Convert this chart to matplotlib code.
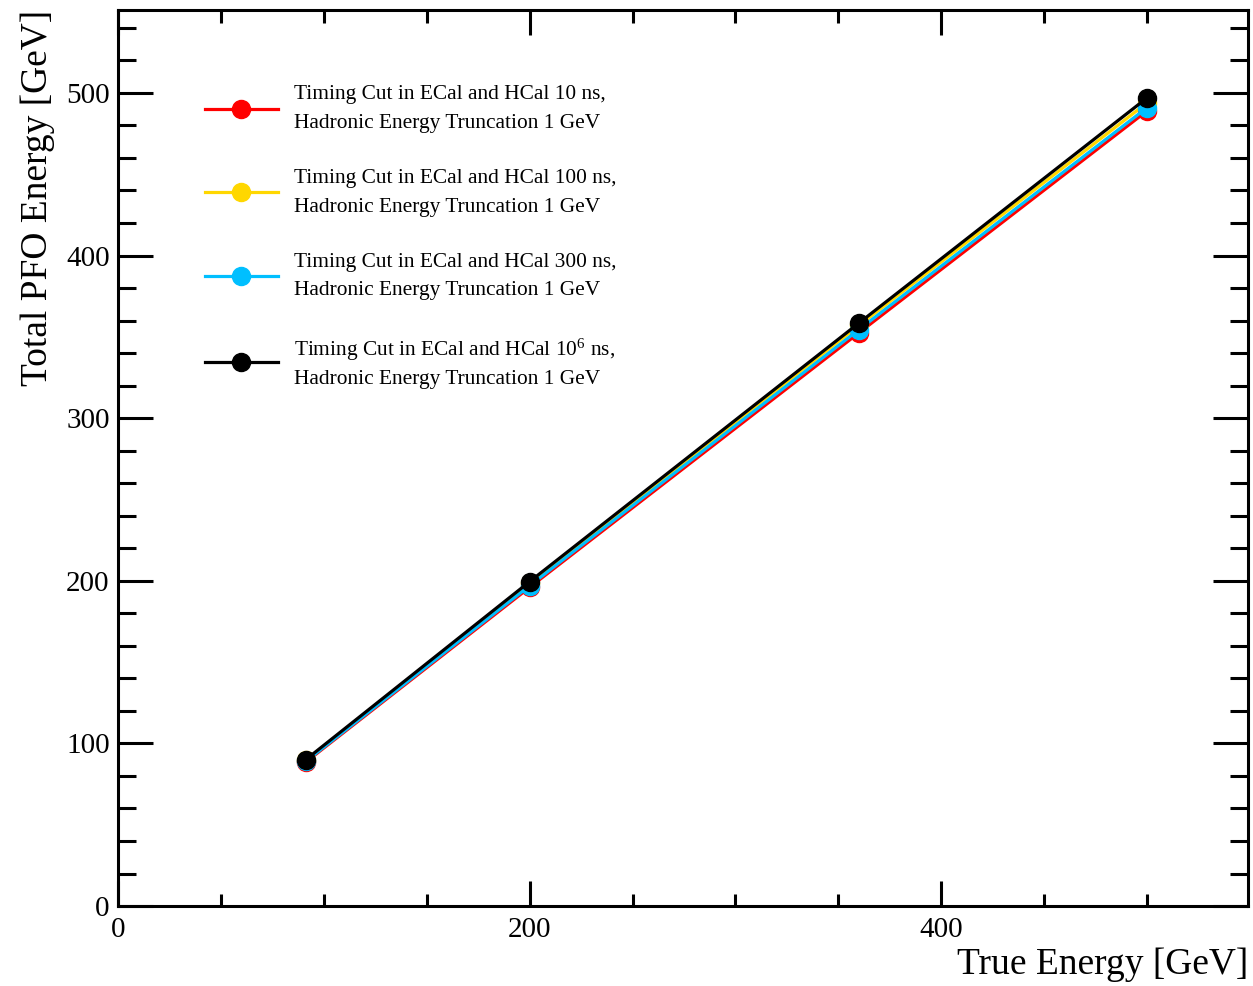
import matplotlib
matplotlib.use("Agg")
import matplotlib.pyplot as plt
from matplotlib.ticker import MultipleLocator

plt.rcParams['font.family'] = ['Liberation Serif', 'DejaVu Serif']
plt.rcParams['mathtext.fontset'] = 'custom'
plt.rcParams['mathtext.rm'] = 'Liberation Serif'
plt.rcParams['mathtext.it'] = 'Liberation Serif:italic'
plt.rcParams['mathtext.bf'] = 'Liberation Serif:bold'

true_energy = [91.2, 200, 360, 500]
pfo_10ns = [88.5, 196.0, 352.5, 489.0]
pfo_100ns = [89.5, 198.5, 357.0, 494.0]
pfo_300ns = [89.0, 197.0, 354.5, 491.0]
pfo_1e6ns = [90.0, 199.5, 358.5, 497.0]

labels = [
    "Timing Cut in ECal and HCal 10 ns,\nHadronic Energy Truncation 1 GeV",
    "Timing Cut in ECal and HCal 100 ns,\nHadronic Energy Truncation 1 GeV",
    "Timing Cut in ECal and HCal 300 ns,\nHadronic Energy Truncation 1 GeV",
    "Timing Cut in ECal and HCal 10$^{6}$ ns,\nHadronic Energy Truncation 1 GeV",
]
colors = ['#ff0000', '#ffd700', '#00bfff', '#000000']
series = [pfo_10ns, pfo_100ns, pfo_300ns, pfo_1e6ns]

fig = plt.figure(figsize=(12.53, 9.86), dpi=100)
ax = fig.add_axes([0.0942, 0.0811, 0.9018, 0.9088])

for ys, c, lab in zip(series, colors, labels):
    ax.plot(true_energy, ys, color=c, lw=2.3, marker='o', ms=13, label=lab)

ax.set_xlim(0, 549)
ax.set_ylim(0, 551)
ax.xaxis.set_major_locator(MultipleLocator(200))
ax.xaxis.set_minor_locator(MultipleLocator(50))
ax.yaxis.set_major_locator(MultipleLocator(100))
ax.yaxis.set_minor_locator(MultipleLocator(20))
ax.tick_params(axis='both', which='both', direction='in', top=True, right=True,
               width=2.2, labelsize=21)
ax.tick_params(axis='x', which='major', length=18, pad=8)
ax.tick_params(axis='x', which='minor', length=9)
ax.tick_params(axis='y', which='major', length=25, pad=6)
ax.tick_params(axis='y', which='minor', length=13)
for sp in ax.spines.values():
    sp.set_linewidth(2.2)

ax.set_xlabel("True Energy [GeV]", fontsize=27, loc='right', labelpad=3)
ax.set_ylabel("Total PFO Energy [GeV]", fontsize=27, loc='top', labelpad=8)

leg = ax.legend(loc='upper left', bbox_to_anchor=(0.077, 0.916), frameon=False,
                fontsize=15.4, handlelength=3.4, handletextpad=0.75, labelspacing=1.68,
                borderpad=0, borderaxespad=0)
texts = leg.get_texts()
for t in texts:
    t.set_linespacing(1.7)
texts[-1].set_linespacing(1.55)

fig.savefig("out.png", dpi=100)
